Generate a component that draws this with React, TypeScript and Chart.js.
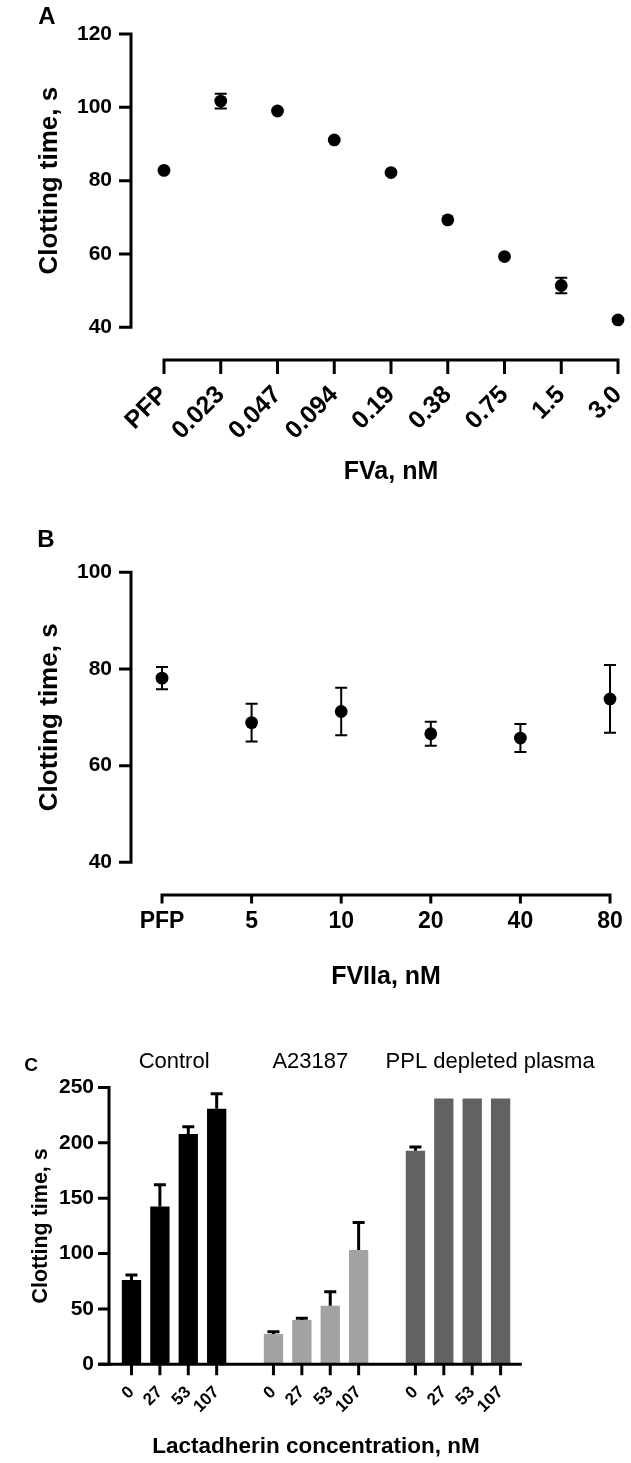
import React, { useEffect, useRef } from 'react';
import { Chart, registerables } from 'chart.js';

Chart.register(...registerables);

// ---------- Data ----------
// Panel A: FVa titration
const fvaLabels = ['PFP', '0.023', '0.047', '0.094', '0.19', '0.38', '0.75', '1.5', '3.0'];
const fvaTimes = [82.8, 101.7, 99.0, 91.1, 82.2, 69.3, 59.3, 51.4, 42.0];
const fvaErrors = [0, 2.0, 0, 0, 0, 0, 0, 2.1, 0];

// Panel B: FVIIa titration
const fviiaLabels = ['PFP', '5', '10', '20', '40', '80'];
const fviiaTimes = [78.1, 68.9, 71.2, 66.6, 65.7, 73.8];
const fviiaErrors = [2.3, 3.9, 4.9, 2.5, 2.9, 7.0];

// Panel C: lactadherin
const lactConcs = ['0', '27', '53', '107'];
const groupNames = ['Control', 'A23187', 'PPL depleted plasma'];
const controlTimes = [76.2, 142.5, 208.0, 230.8];
const controlErrors = [4.5, 19.6, 6.6, 13.6];
const a23187Times = [27.4, 40.0, 52.8, 103.3];
const a23187Errors = [1.9, 1.5, 12.8, 24.7];
const pplTimes = [192.9, 240, 240, 240];
const pplErrors = [3.3, 0, 0, 0];
const groupColors = ['#000000', '#a2a2a2', '#626262'];

const FF = "'Liberation Sans', Arial, Helvetica, sans-serif";

// ---------- Plugins ----------
const gpAxes = {
  id: 'gpAxes',
  afterDatasetsDraw(chart: any, _a: any, o: any) {
    const { ctx, chartArea: ca, scales } = chart;
    const ys = scales.y;
    const xs = scales.x;
    const lw = o.lineWidth;
    const h = lw / 2;
    ctx.save();
    ctx.strokeStyle = '#000';
    ctx.lineWidth = lw;
    ctx.lineCap = 'butt';
    // y axis
    const yx = ca.left - o.yGap;
    const yPx = ys.ticks.map((t: any) => ys.getPixelForValue(t.value));
    const yTop = Math.min(...yPx);
    const yBot = Math.max(...yPx);
    ctx.beginPath();
    ctx.moveTo(yx, yTop - h);
    ctx.lineTo(yx, yBot + h);
    yPx.forEach((p: number) => {
      ctx.moveTo(yx - o.yTickLen, p);
      ctx.lineTo(yx + h, p);
    });
    ctx.stroke();
    // x axis
    const xy = ca.bottom + o.xGap;
    const xPx = xs.ticks
      .map((t: any, i: number) => ({ l: t.label, p: xs.getPixelForTick(i) }))
      .filter((t: any) => t.l !== '' && t.l != null)
      .map((t: any) => t.p);
    const x0 = o.xLeftOfY != null ? yx - o.xLeftOfY : Math.min(...xPx) - h;
    const x1 = o.xRightExtra != null ? ca.right + o.xRightExtra : Math.max(...xPx) + h;
    ctx.beginPath();
    ctx.moveTo(x0, xy);
    ctx.lineTo(x1, xy);
    xPx.forEach((p: number) => {
      ctx.moveTo(p, xy - h);
      ctx.lineTo(p, xy + o.xTickLen);
    });
    ctx.stroke();
    ctx.restore();
  },
};

const errorBars = {
  id: 'errorBars',
  afterDatasetsDraw(chart: any, _a: any, o: any) {
    const { ctx } = chart;
    ctx.save();
    ctx.strokeStyle = '#000';
    ctx.lineWidth = o.lineWidth;
    ctx.lineCap = 'butt';
    chart.data.datasets.forEach((ds: any, di: number) => {
      if (!ds.errors) return;
      const meta = chart.getDatasetMeta(di);
      const ys = chart.scales[meta.yAxisID];
      meta.data.forEach((el: any, i: number) => {
        const v = ds.data[i];
        const e = ds.errors[i];
        if (v == null || !e) return;
        const x = el.x;
        const top = ys.getPixelForValue(v + e);
        const bot = o.upOnly ? ys.getPixelForValue(v) : ys.getPixelForValue(v - e);
        const c = o.capWidth / 2;
        ctx.beginPath();
        ctx.moveTo(x, bot);
        ctx.lineTo(x, top);
        ctx.moveTo(x - c, top);
        ctx.lineTo(x + c, top);
        if (!o.upOnly) {
          ctx.moveTo(x - c, bot);
          ctx.lineTo(x + c, bot);
        }
        ctx.stroke();
      });
    });
    ctx.restore();
  },
};

const bold = (size: number) => ({ family: FF, size, weight: 'bold' as const });

function scatterConfig(p: {
  labels: string[];
  values: number[];
  errors: number[];
  yMin: number;
  yMax: number;
  xTitle: string;
  padTop: number;
  padRight: number;
  yWidth: number;
  xHeight: number;
  rotation: number;
  xTickPad: number;
  xTickSize: number;
  xTitlePadBottom: number;
  yGap: number;
  xGap: number;
  xTickLen: number;
}) {
  return {
    type: 'line',
    data: {
      labels: p.labels,
      datasets: [
        {
          data: p.values,
          errors: p.errors,
          showLine: false,
          pointRadius: 6.4,
          pointHoverRadius: 6.4,
          pointBackgroundColor: '#000',
          pointBorderWidth: 0,
          borderColor: '#000',
          clip: false,
        },
      ],
    },
    options: {
      responsive: false,
      animation: false,
      devicePixelRatio: 1,
      events: [],
      layout: { padding: { top: p.padTop, right: p.padRight, left: 0, bottom: 0 } },
      plugins: {
        legend: { display: false },
        tooltip: { enabled: false },
        gpAxes: { lineWidth: 3, yGap: p.yGap, xGap: p.xGap, yTickLen: 12, xTickLen: p.xTickLen },
        errorBars: { lineWidth: 2, capWidth: 12, upOnly: false },
      },
      scales: {
        x: {
          type: 'category',
          offset: false,
          grid: { display: false, drawTicks: false },
          border: { display: false },
          ticks: {
            autoSkip: false,
            minRotation: p.rotation,
            maxRotation: p.rotation,
            padding: p.xTickPad,
            color: '#000',
            font: bold(p.xTickSize),
          },
          title: {
            display: true,
            text: p.xTitle,
            color: '#000',
            font: bold(25),
            padding: { top: 0, bottom: p.xTitlePadBottom },
          },
          afterFit: (s: any) => {
            s.height = p.xHeight;
            s.paddingLeft = 0;
            s.paddingRight = 0;
          },
        },
        y: {
          type: 'linear',
          min: p.yMin,
          max: p.yMax,
          grid: { display: false, drawTicks: false },
          border: { display: false },
          ticks: { stepSize: 20, padding: p.yWidth - 112, color: '#000', font: bold(21) },
          title: {
            display: true,
            text: 'Clotting time, s',
            color: '#000',
            font: bold(26),
            padding: { top: 34.4, bottom: 0 },
          },
          afterFit: (s: any) => {
            s.width = p.yWidth;
            s.paddingTop = 0;
            s.paddingBottom = 0;
          },
        },
      },
    },
    plugins: [gpAxes, errorBars],
  };
}

function barConfig() {
  const labels: string[] = [];
  const slots: number[][] = [];
  groupNames.forEach((_g, gi) => {
    if (gi > 0) labels.push('');
    slots.push(lactConcs.map((c) => {
      labels.push(c);
      return labels.length - 1;
    }));
  });
  const groupValues = [controlTimes, a23187Times, pplTimes];
  const groupErrors = [controlErrors, a23187Errors, pplErrors];
  const spread = (gi: number, arr: number[]) => {
    const out: (number | null)[] = labels.map(() => null);
    slots[gi].forEach((s, k) => {
      out[s] = arr[k];
    });
    return out;
  };
  const headerNudge = [0, -0.2, 1.13];
  const headerPos = slots.map((s, gi) => (s[0] + s[s.length - 1]) / 2 + headerNudge[gi]);

  return {
    type: 'bar',
    data: {
      labels,
      datasets: groupNames.map((g, gi) => ({
        label: g,
        data: spread(gi, groupValues[gi]),
        errors: spread(gi, groupErrors[gi]),
        backgroundColor: groupColors[gi],
        borderWidth: 0,
        grouped: false,
        barPercentage: 0.68,
        categoryPercentage: 1,
      })),
    },
    options: {
      responsive: false,
      animation: false,
      devicePixelRatio: 1,
      events: [],
      layout: { padding: { top: 0, right: 116.2, left: 0, bottom: 0 } },
      plugins: {
        legend: { display: false },
        tooltip: { enabled: false },
        gpAxes: { lineWidth: 3, yGap: 8.3, xGap: 0, yTickLen: 11, xTickLen: 11, xLeftOfY: 11, xRightExtra: 7 },
        errorBars: { lineWidth: 3, capWidth: 12, upOnly: true },
      },
      scales: {
        x: {
          type: 'category',
          offset: true,
          grid: { display: false, drawTicks: false },
          border: { display: false },
          ticks: {
            autoSkip: false,
            minRotation: 45,
            maxRotation: 45,
            padding: 18,
            color: '#000',
            font: bold(17),
          },
          title: {
            display: true,
            text: 'Lactadherin concentration, nM',
            color: '#000',
            font: bold(22.5),
            padding: { top: 0, bottom: 2.8 },
          },
          afterFit: (s: any) => {
            s.height = 98.7;
            s.paddingLeft = 0;
            s.paddingRight = 0;
          },
        },
        x2: {
          type: 'linear',
          position: 'top',
          offset: false,
          bounds: 'data',
          min: -0.5,
          max: labels.length - 0.5,
          grid: { display: false, drawTicks: false, offset: false },
          border: { display: false },
          afterBuildTicks: (s: any) => {
            s.ticks = headerPos.map((v) => ({ value: v }));
          },
          ticks: {
            autoSkip: false,
            maxRotation: 0,
            minRotation: 0,
            padding: 12.8,
            color: '#000',
            font: { family: FF, size: 22, weight: 'normal' },
            callback: (_v: any, i: number) => groupNames[i],
          },
          afterFit: (s: any) => {
            s.height = 87.5;
            s.paddingLeft = 0;
            s.paddingRight = 0;
          },
        },
        y: {
          type: 'linear',
          min: 0,
          max: 250,
          grid: { display: false, drawTicks: false },
          border: { display: false },
          ticks: { stepSize: 50, padding: 23.3, color: '#000', font: bold(21) },
          title: {
            display: true,
            text: 'Clotting time, s',
            color: '#000',
            font: bold(21.5),
            padding: { top: 28.1, bottom: 0 },
          },
          afterFit: (s: any) => {
            s.width = 117.3;
            s.paddingTop = 0;
            s.paddingBottom = 0;
          },
        },
      },
    },
    plugins: [gpAxes, errorBars],
  };
}

const W = 631;

export default function App() {
  const refA = useRef<HTMLCanvasElement>(null);
  const refB = useRef<HTMLCanvasElement>(null);
  const refC = useRef<HTMLCanvasElement>(null);

  useEffect(() => {
    const charts: Chart[] = [];
    const cfgA = scatterConfig({
      labels: fvaLabels,
      values: fvaTimes,
      errors: fvaErrors,
      yMin: 40,
      yMax: 120,
      xTitle: 'FVa, nM',
      padTop: 34,
      padRight: 13,
      yWidth: 164,
      xHeight: 172.7,
      rotation: 45,
      xTickPad: 53,
      xTickSize: 25,
      xTitlePadBottom: 13,
      yGap: 33,
      xGap: 32.7,
      xTickLen: 14,
    });
    const cfgB = scatterConfig({
      labels: fviiaLabels,
      values: fviiaTimes,
      errors: fviiaErrors,
      yMin: 40,
      yMax: 100,
      xTitle: 'FVIIa, nM',
      padTop: 72.3,
      padRight: 21,
      yWidth: 162,
      xHeight: 137.7,
      rotation: 0,
      xTickPad: 45.6,
      xTickSize: 23,
      xTitlePadBottom: 8,
      yGap: 31,
      xGap: 32.7,
      xTickLen: 8.5,
    });
    if (refA.current) charts.push(new Chart(refA.current, cfgA as any));
    if (refB.current) charts.push(new Chart(refB.current, cfgB as any));
    if (refC.current) charts.push(new Chart(refC.current, barConfig() as any));
    return () => charts.forEach((c) => c.destroy());
  }, []);

  const letter = (t: string, x: number, y: number, size: number) => (
    <div
      style={{
        position: 'absolute',
        left: x,
        top: y,
        transform: 'translate(-50%, -50%)',
        fontFamily: FF,
        fontWeight: 'bold',
        fontSize: size,
        lineHeight: 1,
        color: '#000',
      }}
    >
      {t}
    </div>
  );

  return (
    <div style={{ position: 'absolute', left: 0, top: 0, width: W, height: 1463, background: '#fff' }}>
      <canvas ref={refA} width={W} height={500} style={{ position: 'absolute', left: 0, top: 0 }} />
      <canvas ref={refB} width={W} height={500} style={{ position: 'absolute', left: 0, top: 500 }} />
      <canvas ref={refC} width={W} height={463} style={{ position: 'absolute', left: 0, top: 1000 }} />
      {letter('A', 47, 15.5, 24)}
      {letter('B', 46, 538.5, 24)}
      {letter('C', 31, 1064, 19)}
    </div>
  );
}
